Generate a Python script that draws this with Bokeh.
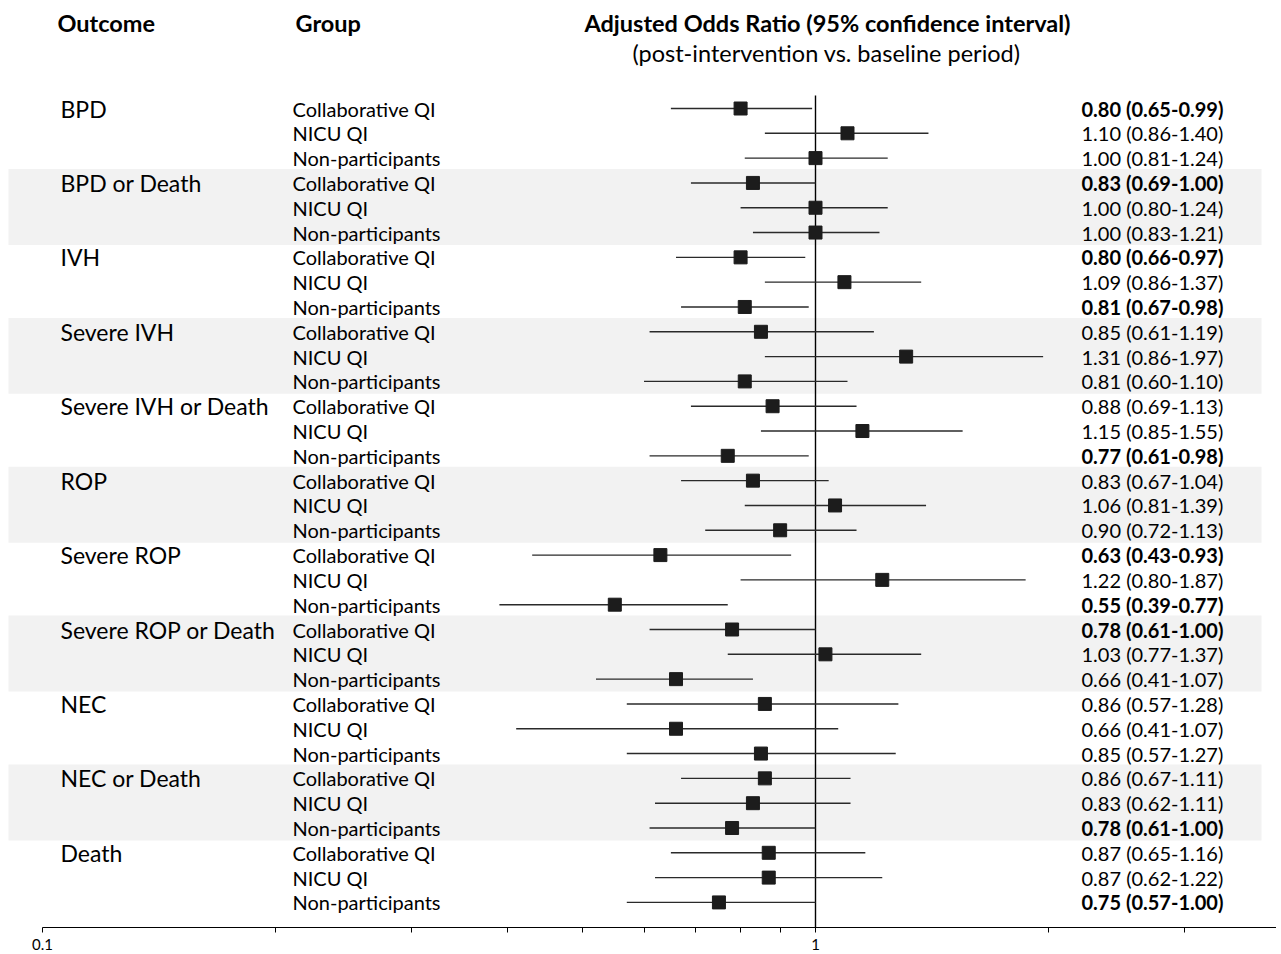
import numpy as np
from bokeh.plotting import figure
from bokeh.models import ColumnDataSource, Range1d, FixedTicker, CustomJSTickFormatter
from bokeh.core.properties import value
from bokeh.embed import file_html
from bokeh.resources import INLINE

# ---------------- data ----------------
outcomes = ["BPD", "BPD or Death", "IVH", "Severe IVH", "Severe IVH or Death",
            "ROP", "Severe ROP", "Severe ROP or Death", "NEC", "NEC or Death", "Death"]
groups = ["Collaborative QI", "NICU QI", "Non-participants"]

odds_ratio = [0.80, 1.10, 1.00,  0.83, 1.00, 1.00,  0.80, 1.09, 0.81,
              0.85, 1.31, 0.81,  0.88, 1.15, 0.77,  0.83, 1.06, 0.90,
              0.63, 1.22, 0.55,  0.78, 1.03, 0.66,  0.86, 0.66, 0.85,
              0.86, 0.83, 0.78,  0.87, 0.87, 0.75]
ci_lower = [0.65, 0.86, 0.81,  0.69, 0.80, 0.83,  0.66, 0.86, 0.67,
            0.61, 0.86, 0.60,  0.69, 0.85, 0.61,  0.67, 0.81, 0.72,
            0.43, 0.80, 0.39,  0.61, 0.77, 0.52,  0.57, 0.41, 0.57,
            0.67, 0.62, 0.61,  0.65, 0.62, 0.57]
ci_upper = [0.99, 1.40, 1.24,  1.00, 1.24, 1.21,  0.97, 1.37, 0.98,
            1.19, 1.97, 1.10,  1.13, 1.55, 0.98,  1.04, 1.39, 1.13,
            0.93, 1.87, 0.77,  1.00, 1.37, 0.83,  1.28, 1.07, 1.27,
            1.11, 1.11, 1.00,  1.16, 1.22, 1.00]
value_labels = ["0.80 (0.65-0.99)", "1.10 (0.86-1.40)", "1.00 (0.81-1.24)",
                "0.83 (0.69-1.00)", "1.00 (0.80-1.24)", "1.00 (0.83-1.21)",
                "0.80 (0.66-0.97)", "1.09 (0.86-1.37)", "0.81 (0.67-0.98)",
                "0.85 (0.61-1.19)", "1.31 (0.86-1.97)", "0.81 (0.60-1.10)",
                "0.88 (0.69-1.13)", "1.15 (0.85-1.55)", "0.77 (0.61-0.98)",
                "0.83 (0.67-1.04)", "1.06 (0.81-1.39)", "0.90 (0.72-1.13)",
                "0.63 (0.43-0.93)", "1.22 (0.80-1.87)", "0.55 (0.39-0.77)",
                "0.78 (0.61-1.00)", "1.03 (0.77-1.37)", "0.66 (0.41-1.07)",
                "0.86 (0.57-1.28)", "0.66 (0.41-1.07)", "0.85 (0.57-1.27)",
                "0.86 (0.67-1.11)", "0.83 (0.62-1.11)", "0.78 (0.61-1.00)",
                "0.87 (0.65-1.16)", "0.87 (0.62-1.22)", "0.75 (0.57-1.00)"]
bold_label = [1, 0, 0,  1, 0, 0,  1, 0, 1,  0, 0, 0,  0, 0, 1,  0, 0, 0,
              1, 0, 1,  1, 0, 0,  0, 0, 0,  0, 0, 1,  0, 0, 1]
shaded_outcomes = ["BPD or Death", "Severe IVH", "ROP", "Severe ROP or Death", "NEC or Death"]
tick_major = [0.1, 1]
tick_minor = [0.2, 0.3, 0.4, 0.5, 0.6, 0.7, 0.8, 0.9, 2, 3, 4]

# ---------------- layout helpers ----------------
FONT = "Lato"
X0_PX, DEC_PX = 42.0, 773.0          # x of 0.1 and pixels per decade
ROW0_PX, ROW_PX = 108.0, 24.81       # y of first row and row spacing
FRAME_L, FRAME_T, FRAME_R, FRAME_B = 0.0, 0.0, 1276.0, 927.0


def px2x(px):
    return 10 ** (-1 + (px - X0_PX) / DEC_PX)


def px2y(py):
    return (py - ROW0_PX) / ROW_PX


n_rows = len(outcomes) * len(groups)
rows = np.arange(n_rows)
group_col = [g for _ in outcomes for g in groups]

p = figure(frame_width=int(FRAME_R - FRAME_L), frame_height=int(FRAME_B - FRAME_T),
           x_axis_type="log",
           x_range=Range1d(px2x(FRAME_L), px2x(FRAME_R)),
           y_range=Range1d(px2y(FRAME_B), px2y(FRAME_T)),
           y_axis_location=None, toolbar_location=None, output_backend="svg",
           min_border=0, min_border_bottom=0, background_fill_color="white")
p.grid.visible = False
p.outline_line_color = None

# shaded bands
band_top, band_bot = [], []
for k, o in enumerate(outcomes):
    if o in shaded_outcomes:
        band_top.append(3 * k - 0.56)
        band_bot.append(3 * k + 2 + 0.5)
p.quad(left=px2x(8), right=px2x(1261), top=band_top, bottom=band_bot,
       fill_color="#f2f2f2", line_color=None)

# reference line at 1
p.segment(x0=[1], x1=[1], y0=[px2y(95)], y1=[px2y(FRAME_B)], line_color="black", line_width=1.4)

src = ColumnDataSource(dict(y=rows, orv=odds_ratio, lo=ci_lower, hi=ci_upper))
p.segment(x0="lo", x1="hi", y0="y", y1="y", source=src, line_color="#2a2a2a", line_width=1.4)
p.scatter(x="orv", y="y", source=src, marker="square", size=13,
          fill_color="#1c1c1c", line_color="#1c1c1c")

# headers
p.text(x=[px2x(57), px2x(295)], y=[px2y(22)] * 2, text=["Outcome", "Group"],
       text_font=value(FONT), text_font_size="23.5px", text_font_style="bold",
       text_baseline="middle", text_color="black")
p.text(x=[px2x(827)], y=[px2y(22)], text=["Adjusted Odds Ratio (95% confidence interval)"],
       text_font=value(FONT), text_font_size="23.5px", text_font_style="bold",
       text_baseline="middle", text_align="center", text_color="black")
p.text(x=[px2x(826)], y=[px2y(52)], text=["(post-intervention vs. baseline period)"],
       text_font=value(FONT), text_font_size="23.5px",
       text_baseline="middle", text_align="center", text_color="black")

# outcome labels
p.text(x=[px2x(60)] * len(outcomes), y=[3 * k for k in range(len(outcomes))], text=outcomes,
       text_font=value(FONT), text_font_size="23px", text_baseline="middle", text_color="black")
# group labels
p.text(x=[px2x(292)] * n_rows, y=rows, text=group_col,
       text_font=value(FONT), text_font_size="20px", text_baseline="middle", text_color="black")
# value labels
for b in (0, 1):
    idx = [i for i in range(n_rows) if bold_label[i] == b]
    p.text(x=[px2x(1081)] * len(idx), y=[rows[i] for i in idx], text=[value_labels[i] for i in idx],
           text_font=value(FONT), text_font_size="20px", text_baseline="middle",
           text_font_style="bold" if b else "normal", text_color="black")

ax = p.xaxis[0]
ax.ticker = FixedTicker(ticks=tick_major, minor_ticks=tick_minor)
ax.formatter = CustomJSTickFormatter(code="return tick.toString();")
ax.bounds = (0.1, 4)
ax.axis_line_color = "black"
ax.axis_line_width = 1.2
ax.major_tick_in = 0
ax.major_tick_out = 5
ax.minor_tick_in = 0
ax.minor_tick_out = 5
ax.major_tick_line_color = "black"
ax.minor_tick_line_color = "black"
ax.major_label_text_font = FONT
ax.major_label_text_font_size = "15px"
ax.major_label_text_color = "black"
ax.major_label_standoff = 6

open("out.html", "w").write(file_html(p, INLINE))
